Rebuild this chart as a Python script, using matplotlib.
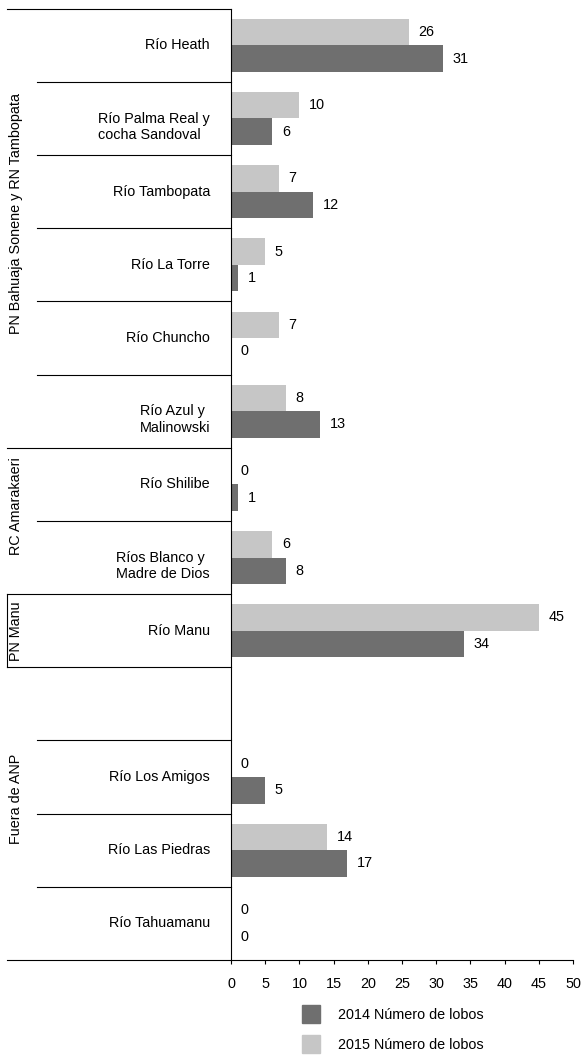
import matplotlib
matplotlib.use('Agg')
import matplotlib.pyplot as plt
import numpy as np
from matplotlib.patches import Rectangle
from matplotlib.transforms import blended_transform_factory

plt.rcParams['font.family'] = ['Liberation Sans', 'DejaVu Sans']
plt.rcParams['font.size'] = 10.4

# Datos de lobos de río por sitio
sitios = ['Río Heath', 'Río Palma Real y\ncocha Sandoval', 'Río Tambopata', 'Río La Torre',
          'Río Chuncho', 'Río Azul y\nMalinowski', 'Río Shilibe', 'Ríos Blanco y\nMadre de Dios',
          'Río Manu', '', 'Río Los Amigos', 'Río Las Piedras', 'Río Tahuamanu']
lobos_2014 = [31, 6, 12, 1, 0, 13, 1, 8, 34, np.nan, 5, 17, 0]
lobos_2015 = [26, 10, 7, 5, 7, 8, 0, 6, 45, np.nan, 0, 14, 0]

grupos = ['PN Bahuaja Sonene y RN Tambopata', 'RC Amarakaeri', 'PN Manu', 'Fuera de ANP']
grupo_inicio = [0, 6, 8, 9]
grupo_fin = [5, 7, 8, 12]

color_2014 = '#6f6f6f'
color_2015 = '#c6c6c6'

W, H = 583, 1059
fig = plt.figure(figsize=(W / 100, H / 100), dpi=100)
ax = fig.add_axes([231 / W, 1 - 960 / H, 342 / W, (960 - 8.7) / H])

y = np.arange(len(sitios))
h = 0.362
ax.barh(y + h / 2, lobos_2014, height=h, color=color_2014)
ax.barh(y - h / 2, lobos_2015, height=h, color=color_2015)

# etiquetas de valor
for yi, v in zip(y, lobos_2014):
    if not np.isnan(v):
        ax.annotate(f'{int(v)}', (v, yi + h / 2), xytext=(7, 0), textcoords='offset points',
                    ha='left', va='center')
for yi, v in zip(y, lobos_2015):
    if not np.isnan(v):
        ax.annotate(f'{int(v)}', (v, yi - h / 2), xytext=(7, 0), textcoords='offset points',
                    ha='left', va='center')

ax.set_xlim(0, 50)
ax.set_ylim(len(sitios) - 0.5, -0.5)
ax.set_xticks(range(0, 51, 5))
ax.set_yticks([])
ax.tick_params(axis='x', length=3, width=0.8, pad=9, direction='out')
for s in ['top', 'right']:
    ax.spines[s].set_visible(False)
for s in ['left', 'bottom']:
    ax.spines[s].set_linewidth(0.8)
    ax.spines[s].set_color('black')

trans = blended_transform_factory(fig.transFigure, ax.transData)

# nombres de sitios
for yi, nombre in zip(y, sitios):
    if not nombre:
        continue
    dy = 0.115 if '\n' in nombre else 0
    ax.text(210 / W, yi + dy, nombre, transform=trans, ha='right', va='center',
            multialignment='left', linespacing=1.25)

# líneas separadoras
limites_grupo = [grupo_inicio[0] - 0.5] + [f + 0.5 for f in grupo_fin]
for k in range(len(sitios) + 1):
    yb = k - 0.5
    x0 = 7 / W if yb in limites_grupo else 37 / W
    ax.plot([x0, 231 / W], [yb, yb], transform=trans, color='black', lw=0.8, clip_on=False)
ax.plot([7 / W, 7 / W], [grupo_inicio[2] - 0.5, grupo_fin[2] + 0.5], transform=trans,
        color='black', lw=0.8, clip_on=False)

# nombres de grupos
for g, a, b in zip(grupos, grupo_inicio, grupo_fin):
    dy = -0.2 if b > a else 0
    ax.text(16 / W, (a + b) / 2 + dy, g, transform=trans, rotation=90, ha='center', va='center')

# leyenda
for i, (col, lab) in enumerate([(color_2014, '2014 Número de lobos'),
                                (color_2015, '2015 Número de lobos')]):
    yc = 1014 + i * 30
    fig.add_artist(Rectangle((302 / W, 1 - (yc + 9) / H), 18 / W, 18 / H,
                             transform=fig.transFigure, color=col))
    fig.text(338 / W, 1 - (yc + 1) / H, lab, ha='left', va='center')

fig.savefig('out.png', dpi=100)
